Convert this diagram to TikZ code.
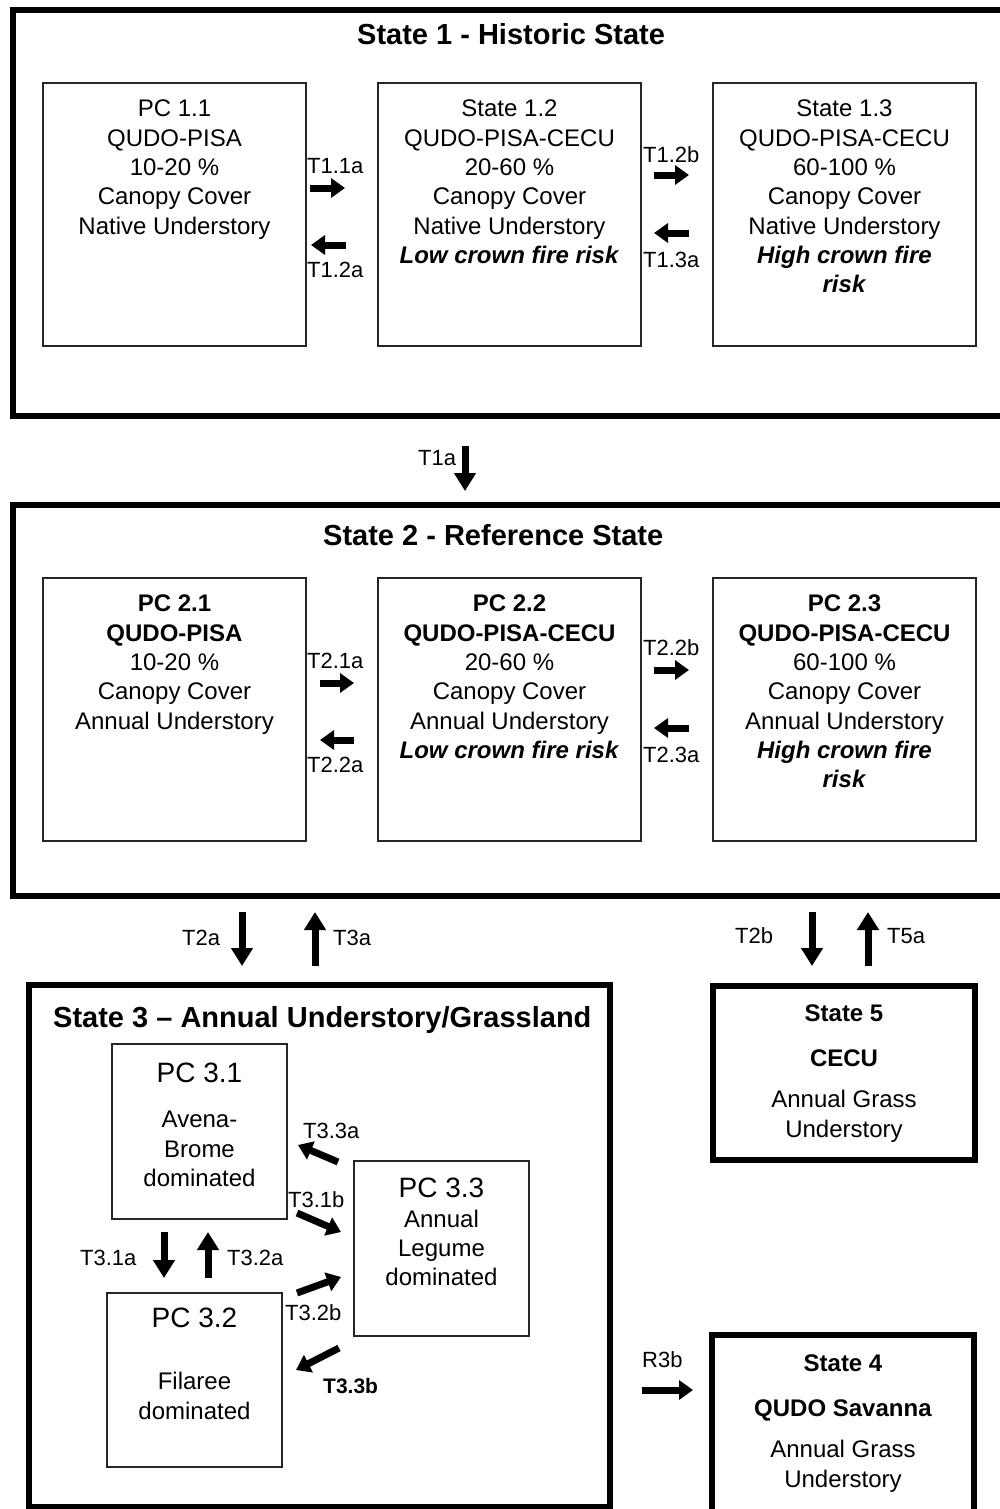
\documentclass[tikz,border=0pt]{standalone}
\usepackage{fontspec}
\setmainfont{Liberation Sans}
\usetikzlibrary{arrows.meta}
\begin{document}
\begin{tikzpicture}[x=1pt,y=-1pt,
  statebox/.style={draw=black,line width=6.5pt,inner sep=0pt},
  pcbox/.style={draw=black!85,line width=1.3pt,inner sep=0pt},
  txt/.style={font=\fontsize{24}{29.3}\selectfont,align=center,inner sep=0pt,anchor=north},
  ttl/.style={font=\fontsize{29}{34}\selectfont\bfseries,inner sep=0pt,anchor=base west},
  lbl/.style={font=\fontsize{22}{26}\selectfont,inner sep=0pt,anchor=base west},
  harr/.style={line width=7pt,-{Triangle[length=14pt,width=19pt]}},
  varr/.style={line width=7pt,-{Triangle[length=18pt,width=21pt]}},
]
\useasboundingbox (0,0) rectangle (999,1509);
\fill[white] (0,0) rectangle (999,1509);

% ---------- State 1 ----------
\node[statebox,minimum width=990pt,minimum height=406pt] (s1) at (508,213) {};
\node[ttl] (s1t) at (357,45) {State 1 - Historic State};
\node[pcbox,minimum width=263pt,minimum height=263pt] (pc11) at (174.5,214.5) {};
\node[pcbox,minimum width=263pt,minimum height=263pt] (pc12) at (509.5,214.5) {};
\node[pcbox,minimum width=263pt,minimum height=263pt] (pc13) at (844.5,214.5) {};
\node[txt] (pc11t) at (174.5,100) {PC 1.1\\QUDO-PISA\\10-20 \%\\Canopy Cover\\Native Understory};
\node[txt] (pc12t) at (509.5,100) {State 1.2\\QUDO-PISA-CECU\\20-60 \%\\Canopy Cover\\Native Understory\\\textbf{\textit{Low crown fire risk}}};
\node[txt] (pc13t) at (844.5,100) {State 1.3\\QUDO-PISA-CECU\\60-100 \%\\Canopy Cover\\Native Understory\\\textbf{\textit{High crown fire}}\\\textbf{\textit{risk}}};

\node[lbl] (l11a) at (307,173) {T1.1a};
\node[lbl] (l12a) at (307,277) {T1.2a};
\node[lbl] (l12b) at (643,162) {T1.2b};
\node[lbl] (l13a) at (643,267) {T1.3a};
\coordinate (a11s) at (310,188); \coordinate (a11e) at (345,188);
\coordinate (a12s) at (346,245); \coordinate (a12e) at (311,245);
\coordinate (a12bs) at (654,175); \coordinate (a12be) at (689,175);
\coordinate (a13s) at (689,233); \coordinate (a13e) at (654,233);
\draw[harr] (a11s) -- (a11e);
\draw[harr] (a12s) -- (a12e);
\draw[harr] (a12bs) -- (a12be);
\draw[harr] (a13s) -- (a13e);

% T1a
\node[lbl] (l1a) at (418,465) {T1a};
\coordinate (t1s) at (465,446); \coordinate (t1e) at (465,491);
\draw[varr] (t1s) -- (t1e);

% ---------- State 2 ----------
\node[statebox,minimum width=990pt,minimum height=391pt] (s2) at (508,700.5) {};
\node[ttl] (s2t) at (323,545) {State 2 - Reference State};
\node[pcbox,minimum width=263pt,minimum height=263pt] (pc21) at (174.5,709.5) {};
\node[pcbox,minimum width=263pt,minimum height=263pt] (pc22) at (509.5,709.5) {};
\node[pcbox,minimum width=263pt,minimum height=263pt] (pc23) at (844.5,709.5) {};
\node[txt] (pc21t) at (174.5,595) {\textbf{PC 2.1}\\\textbf{QUDO-PISA}\\10-20 \%\\Canopy Cover\\Annual Understory};
\node[txt] (pc22t) at (509.5,595) {\textbf{PC 2.2}\\\textbf{QUDO-PISA-CECU}\\20-60 \%\\Canopy Cover\\Annual Understory\\\textbf{\textit{Low crown fire risk}}};
\node[txt] (pc23t) at (844.5,595) {\textbf{PC 2.3}\\\textbf{QUDO-PISA-CECU}\\60-100 \%\\Canopy Cover\\Annual Understory\\\textbf{\textit{High crown fire}}\\\textbf{\textit{risk}}};

\node[lbl] (l21a) at (307,668) {T2.1a};
\node[lbl] (l22a) at (307,772) {T2.2a};
\node[lbl] (l22b) at (643,655) {T2.2b};
\node[lbl] (l23a) at (643,762) {T2.3a};
\coordinate (b21s) at (320,683); \coordinate (b21e) at (354,683);
\coordinate (b22s) at (354,740); \coordinate (b22e) at (320,740);
\coordinate (b22bs) at (654,670); \coordinate (b22be) at (689,670);
\coordinate (b23s) at (689,728); \coordinate (b23e) at (654,728);
\draw[harr] (b21s) -- (b21e);
\draw[harr] (b22s) -- (b22e);
\draw[harr] (b22bs) -- (b22be);
\draw[harr] (b23s) -- (b23e);

% between State 2 and States 3 / 5
\node[lbl] (l2a) at (182,945) {T2a};
\node[lbl] (l3a) at (333,945) {T3a};
\node[lbl] (l2b) at (735,943) {T2b};
\node[lbl] (l5a) at (887,943) {T5a};
\coordinate (c2as) at (242,912); \coordinate (c2ae) at (242,966);
\coordinate (c3as) at (315,966); \coordinate (c3ae) at (315,912);
\coordinate (c2bs) at (812,912); \coordinate (c2be) at (812,966);
\coordinate (c5as) at (868,966); \coordinate (c5ae) at (868,912);
\draw[varr] (c2as) -- (c2ae);
\draw[varr] (c3as) -- (c3ae);
\draw[varr] (c2bs) -- (c2be);
\draw[varr] (c5as) -- (c5ae);

% ---------- State 3 ----------
\node[statebox,minimum width=581pt,minimum height=522pt] (s3) at (319.5,1246) {};
\node[ttl] (s3t) at (53,1027) {State 3 – Annual Understory/Grassland};
\node[pcbox,minimum width=175pt,minimum height=175pt] (pc31) at (199.5,1131.5) {};
\node[pcbox,minimum width=175pt,minimum height=174pt] (pc32) at (194.5,1380) {};
\node[pcbox,minimum width=175pt,minimum height=175pt] (pc33) at (441.5,1248.5) {};
\node[txt] (pc31t) at (199.5,1063) {{\fontsize{28}{34}\selectfont PC 3.1}\\[15.7pt]Avena-\\Brome\\dominated};
\node[txt] (pc32t) at (194.5,1308) {{\fontsize{28}{34}\selectfont PC 3.2}\\[32.7pt]Filaree\\dominated};
\node[txt] (pc33t) at (441.5,1178) {{\fontsize{28}{34}\selectfont PC 3.3}\\Annual\\Legume\\dominated};

\node[lbl] (l31a) at (80,1265) {T3.1a};
\node[lbl] (l32a) at (227,1265) {T3.2a};
\node[lbl] (l33a) at (303,1138) {T3.3a};
\node[lbl] (l31b) at (288,1207) {T3.1b};
\node[lbl] (l32b) at (285,1320) {T3.2b};
\node[lbl,font=\fontsize{21}{26}\selectfont\bfseries] (l33b) at (323,1393) {T3.3b};
\coordinate (d31as) at (164,1232); \coordinate (d31ae) at (164,1278);
\coordinate (d32as) at (208,1278); \coordinate (d32ae) at (208,1232);
\coordinate (d33as) at (338,1162); \coordinate (d33ae) at (298,1145);
\coordinate (d31bs) at (297,1213); \coordinate (d31be) at (341,1232);
\coordinate (d32bs) at (297,1293); \coordinate (d32be) at (341,1277);
\coordinate (d33bs) at (339,1348); \coordinate (d33be) at (296,1370);
\draw[varr] (d31as) -- (d31ae);
\draw[varr] (d32as) -- (d32ae);
\draw[harr] (d33as) -- (d33ae);
\draw[harr] (d31bs) -- (d31be);
\draw[harr] (d32bs) -- (d32be);
\draw[harr] (d33bs) -- (d33be);

% ---------- State 5 ----------
\node[statebox,minimum width=262pt,minimum height=174pt] (s5) at (844,1073) {};
\node[txt] (s5t) at (844,1005) {\textbf{State 5}\\[15.7pt]\textbf{CECU}\\[11.7pt]Annual Grass\\Understory};

% ---------- State 4 ----------
\node[statebox,minimum width=262pt,minimum height=177pt] (s4) at (843,1423.5) {};
\node[txt] (s4t) at (843,1355) {\textbf{State 4}\\[15.7pt]\textbf{QUDO Savanna}\\[11.7pt]Annual Grass\\Understory};

\node[lbl] (lr3b) at (642,1367) {R3b};
\coordinate (r3s) at (642,1390); \coordinate (r3e) at (693,1390);
\draw[harr] (r3s) -- (r3e);
\end{tikzpicture}
\end{document}
